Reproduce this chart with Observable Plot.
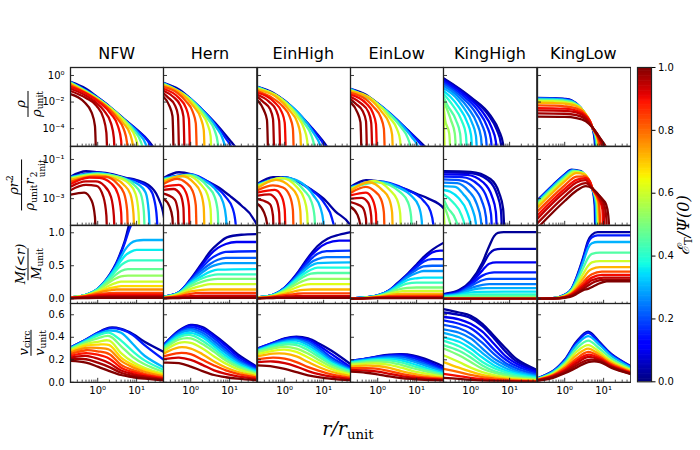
<!DOCTYPE html>
<html><head><meta charset="utf-8">
<script src="https://cdn.jsdelivr.net/npm/d3@7"></script>
<script src="https://cdn.jsdelivr.net/npm/@observablehq/plot@0.6"></script>
<style>
body{margin:0;background:#fff;}
#fig{position:relative;width:700px;height:450px;overflow:hidden;background:#fff;font-family:"DejaVu Sans",sans-serif;}
#fig svg{position:absolute;}
.title{position:absolute;font-family:"DejaVu Sans",sans-serif;font-size:16px;transform:translate(-50%,-50%);white-space:nowrap;color:#000;}
.yl{position:absolute;transform:translate(-50%,-50%) rotate(-90deg);white-space:nowrap;}
.frac{display:inline-flex;flex-direction:column;align-items:center;font-family:"DejaVu Serif",serif;font-style:italic;font-size:13px;line-height:1.0;color:#000;}
.frac .den{border-top:1px solid #000;padding-top:1px;margin-top:1px;}
.frac sub,.xl sub,.cbl sub{font-style:normal;font-size:70%;vertical-align:-0.3em;line-height:0;}
.frac sup{font-style:normal;font-size:70%;line-height:0;}
.ss{display:inline-flex;flex-direction:column;font-style:normal;font-size:68%;line-height:0.95;vertical-align:-0.35em;margin-left:1px;}
.xl{position:absolute;transform:translate(-50%,-50%);font-family:"DejaVu Serif",serif;font-style:italic;font-size:19px;white-space:nowrap;}
.cbl{position:absolute;transform:translate(-50%,-50%) rotate(-90deg);font-family:"DejaVu Serif",serif;font-style:italic;font-size:16px;white-space:nowrap;}
</style></head><body><div id="fig"></div>
<script>
// ---------------- data ----------------
const columnNames = ["NFW", "Hern", "EinHigh", "EinLow", "KingHigh", "KingLow"];
const colorbarTicks = [0, 0.2, 0.4, 0.6, 0.8, 1.0];
const rhoTicks = [1, 1e-2, 1e-4];
const rhoR2Ticks = [1e-1, 1e-3];
const massTicks = [0, 0.5, 1.0];
const vTicks = [0, 0.2, 0.4, 0.6];
const rMajor = [1, 10];
const rMinor = [0.3, 0.4, 0.5, 0.6, 0.7, 0.8, 0.9, 2, 3, 4, 5, 6, 7, 8, 9, 20, 30, 40];

// density: [E_T, [r, log10 rho, r, log10 rho, ...]]
const rhoNFW = [
 [0.03,[0.2,-0.48,0.5,-1.0,1,-1.65,2,-2.32,5,-3.32,10,-4.05,20,-4.9,35,-6.0,50,-7.3,62,-9]],
 [0.15,[0.2,-0.49,1,-1.67,5,-3.35,10,-4.1,22,-5.2,28,-5.9,33,-7.0,37,-9]],
 [0.3,[0.2,-0.51,1,-1.7,5,-3.4,11,-4.35,17,-5.15,20.5,-6.3,23,-9]],
 [0.45,[0.2,-0.54,1,-1.73,4,-3.12,8.5,-4.15,12.7,-4.95,15.3,-6.0,17,-9]],
 [0.6,[0.2,-0.58,1,-1.77,3,-2.85,6.2,-3.8,9.4,-4.7,11.2,-5.8,12.5,-9]],
 [0.72,[0.2,-0.64,1,-1.83,2.5,-2.75,4.6,-3.6,6.9,-4.45,8.3,-5.6,9.2,-9]],
 [0.83,[0.2,-0.74,0.8,-1.68,1.6,-2.3,3.2,-3.25,4.7,-4.05,5.7,-5.1,6.3,-9]],
 [0.9,[0.2,-0.86,0.6,-1.48,1.1,-2.02,2.2,-2.9,3.3,-3.8,4.0,-4.9,4.4,-9]],
 [0.94,[0.2,-1.0,0.5,-1.52,0.9,-2.03,1.45,-2.65,2.2,-3.6,2.6,-4.7,2.9,-9]],
 [0.97,[0.2,-1.17,0.5,-1.7,0.93,-2.28,1.4,-3.2,1.67,-4.3,1.85,-9]],
 [1.0,[0.2,-1.4,0.45,-2.0,0.7,-2.8,0.85,-3.8,0.95,-9]]
];
const rhoHern = [
 [0.03,[0.2,-0.55,0.5,-1.05,1,-1.75,2,-2.6,5,-3.8,10,-4.85,20,-5.95,40,-7.2,50,-7.8,56,-9]],
 [0.15,[0.2,-0.56,1,-1.76,3,-3.13,8,-4.73,12,-5.66,14.4,-6.66,16,-9]],
 [0.3,[0.2,-0.58,1,-1.78,2,-2.63,4.5,-3.88,6.75,-4.83,8.1,-5.78,9,-9]],
 [0.45,[0.2,-0.62,1,-1.82,2.75,-3.27,4.1,-4.12,4.95,-5.05,5.5,-9]],
 [0.6,[0.2,-0.68,0.8,-1.62,1.8,-2.78,2.7,-3.66,3.24,-4.55,3.6,-9]],
 [0.72,[0.2,-0.75,0.6,-1.4,1.2,-2.35,1.8,-3.2,2.16,-4.1,2.4,-9]],
 [0.83,[0.2,-0.86,0.45,-1.3,0.75,-1.93,1.12,-2.71,1.35,-3.59,1.5,-9]],
 [0.9,[0.2,-1.0,0.5,-1.7,0.75,-2.42,0.9,-3.27,1.0,-9]],
 [0.94,[0.2,-1.15,0.36,-1.62,0.54,-2.25,0.65,-3.08,0.72,-9]],
 [0.97,[0.2,-1.35,0.26,-1.65,0.39,-2.23,0.47,-3.0,0.52,-9]],
 [1.0,[0.2,-1.6,0.285,-2.3,0.34,-3.05,0.38,-9]]
];
const rhoEinHigh = [
 [0.03,[0.2,-0.85,0.5,-1.3,1,-1.9,2,-2.7,5,-3.95,10,-5.0,20,-6.25,50,-7.8,60,-9]],
 [0.15,[0.2,-0.86,1,-1.91,4,-3.66,11,-5.38,16.5,-6.46,19.8,-7.45,22,-9]],
 [0.3,[0.2,-0.88,1,-1.93,2.5,-2.95,5.5,-4.32,8.25,-5.29,9.9,-6.2,11,-9]],
 [0.45,[0.2,-0.92,1,-1.97,3.25,-3.63,4.9,-4.55,5.85,-5.46,6.5,-9]],
 [0.6,[0.2,-0.98,0.8,-1.75,2.1,-3.08,3.15,-4.0,3.78,-4.9,4.2,-9]],
 [0.72,[0.2,-1.06,0.6,-1.6,1.4,-2.7,2.1,-3.51,2.52,-4.42,2.8,-9]],
 [0.83,[0.2,-1.17,0.5,-1.72,0.9,-2.34,1.35,-3.12,1.62,-3.98,1.8,-9]],
 [0.9,[0.2,-1.3,0.56,-2.05,0.84,-2.75,1.0,-3.55,1.12,-9]],
 [0.94,[0.2,-1.45,0.4,-1.99,0.6,-2.61,0.72,-3.41,0.8,-9]],
 [0.97,[0.2,-1.62,0.28,-1.99,0.42,-2.53,0.5,-3.27,0.56,-9]],
 [1.0,[0.2,-1.87,0.29,-2.6,0.35,-3.34,0.39,-9]]
];
const rhoEinLow = [
 [0.03,[0.2,-1.0,0.5,-1.45,1,-2.1,2,-2.85,5,-3.9,10,-4.75,20,-5.6,50,-6.9,56,-7.6,60,-9]],
 [0.15,[0.2,-1.01,1,-2.11,5,-3.91,15,-5.46,22.5,-6.33,27,-7.23,30,-9]],
 [0.3,[0.2,-1.03,1,-2.13,3,-3.33,7.5,-4.63,11.25,-5.47,13.5,-6.35,15,-9]],
 [0.45,[0.2,-1.07,1,-2.17,4,-3.91,6,-4.74,7.2,-5.62,8,-9]],
 [0.6,[0.2,-1.13,0.8,-1.9,2.1,-3.23,3.15,-4.05,3.78,-4.91,4.2,-9]],
 [0.72,[0.2,-1.2,0.6,-1.72,1.3,-2.78,1.95,-3.58,2.34,-4.43,2.6,-9]],
 [0.83,[0.2,-1.31,0.5,-1.8,0.8,-2.4,1.2,-3.16,1.44,-4.0,1.6,-9]],
 [0.9,[0.2,-1.44,0.5,-2.09,0.75,-2.82,0.9,-3.64,1.0,-9]],
 [0.94,[0.2,-1.6,0.38,-2.12,0.57,-2.72,0.68,-3.54,0.76,-9]],
 [0.97,[0.2,-1.78,0.275,-2.14,0.41,-2.68,0.5,-3.43,0.55,-9]],
 [1.0,[0.2,-2.02,0.3,-2.77,0.36,-3.51,0.4,-9]]
];
const rhoKingHigh = [
 [0.02,[0.2,-0.2,1,-1.63,3.2,-3.01,5.36,-4.16,6.8,-5.17,8,-9]],
 [0.05,[0.2,-0.26,1,-1.7,2.8,-2.95,4.7,-4.1,5.95,-5.11,7,-9]],
 [0.1,[0.2,-0.36,0.8,-1.59,2.08,-2.8,3.48,-3.94,4.42,-4.95,5.2,-9]],
 [0.15,[0.2,-0.48,0.6,-1.46,1.56,-2.67,2.61,-3.81,3.32,-4.82,3.9,-9]],
 [0.2,[0.2,-0.62,0.5,-1.45,1.16,-2.55,1.94,-3.7,2.47,-4.71,2.9,-9]],
 [0.25,[0.2,-0.78,0.45,-1.51,0.86,-2.45,1.44,-3.6,1.83,-4.61,2.15,-9]],
 [0.3,[0.2,-0.96,0.4,-1.6,0.64,-2.37,1.07,-3.52,1.36,-4.53,1.6,-9]],
 [0.35,[0.2,-1.16,0.3,-1.6,0.48,-2.32,0.8,-3.47,1.02,-4.48,1.2,-9]],
 [0.4,[0.2,-1.38,0.35,-2.27,0.59,-3.42,0.75,-4.43,0.88,-9]],
 [0.45,[0.2,-1.62,0.25,-2.22,0.42,-3.37,0.535,-4.38,0.63,-9]],
 [0.5,[0.2,-1.88,0.31,-3.36,0.39,-4.36,0.46,-9]],
 [0.55,[0.2,-2.16,0.22,-3.35,0.28,-4.35,0.33,-9]],
 [0.6,[0.2,-2.46,0.23,-9]]
];
const rhoKingLow = [
 [0.03,[0.2,-1.68,0.5,-1.7,1,-1.76,1.5,-1.87,2.6,-2.43,4,-3.28,5.2,-3.98,5.9,-4.9,6.3,-9]],
 [0.15,[0.2,-1.7,0.5,-1.72,1,-1.78,1.5,-1.9,2.6,-2.46,4,-3.3,5.2,-3.96,6.1,-4.9,6.6,-9]],
 [0.3,[0.2,-1.75,0.5,-1.77,1,-1.83,1.6,-1.97,2.7,-2.5,4,-3.28,5.2,-3.95,6.3,-4.85,7.0,-9]],
 [0.45,[0.2,-1.82,0.5,-1.84,1,-1.9,1.7,-2.05,2.8,-2.57,4,-3.25,5.2,-3.94,6.6,-4.85,7.5,-9]],
 [0.6,[0.2,-1.92,0.5,-1.94,1,-2.0,1.8,-2.15,3,-2.65,4.2,-3.3,5.2,-3.93,6.9,-4.85,8.0,-9]],
 [0.72,[0.2,-2.05,0.5,-2.07,1,-2.12,2,-2.3,3.2,-2.78,4.3,-3.35,5.2,-3.93,7.2,-4.85,8.6,-9]],
 [0.83,[0.2,-2.25,0.5,-2.27,1,-2.32,2,-2.48,3.3,-2.9,4.4,-3.4,5.2,-3.92,7.5,-4.9,9.3,-9]],
 [0.9,[0.2,-2.45,1,-2.5,2,-2.64,3.4,-3.02,4.5,-3.45,5.2,-3.92,7.8,-4.85,9.3,-5.5,10.2,-9]],
 [0.94,[0.2,-2.62,1,-2.66,2,-2.78,3.4,-3.12,5.2,-3.92,8,-4.8,10,-5.6,11,-9]],
 [0.97,[0.2,-2.85,1,-2.88,2,-2.98,3.5,-3.3,5.2,-3.92,8,-4.7,10.5,-5.4,11.8,-6.2,12.3,-9]],
 [1.0,[0.2,-3.1,1,-3.12,2,-3.2,3.5,-3.45,5.2,-3.92,7,-4.45,9.5,-5.0,11.5,-5.4,13,-6.0,14,-7,14.5,-9]]
];

// enclosed mass: [E_T, [r, M, r, M, ...]]
const massNFW = [
 [0.03,[0.2,.02,0.5,.06,1,.15,2,.36,3,.54,4,.72,5,.88,6.3,1.11,8,1.35,15,1.7,50,1.9]],
 [0.15,[0.2,.02,0.5,.06,1,.15,2,.35,3,.53,4,.7,5,.85,6.5,1.05,8,1.18,12,1.28,50,1.3]],
 [0.3,[0.2,.02,0.5,.06,1,.15,2,.34,3,.5,4,.64,5,.74,7,.84,10,.88,15,.89,50,.89]],
 [0.36,[0.2,.02,0.5,.06,1,.14,2,.33,3,.47,4,.58,5,.65,7,.71,10,.74,50,.74]],
 [0.41,[0.2,.02,0.5,.055,1,.14,2,.31,3,.43,4,.51,5,.55,7,.58,50,.58]],
 [0.47,[0.2,.02,0.5,.055,1,.13,2,.28,3,.37,4,.42,6,.45,50,.45]],
 [0.53,[0.2,.02,0.5,.05,1,.12,2,.25,3,.31,4,.34,6,.35,50,.35]],
 [0.6,[0.2,.02,0.5,.05,1,.11,2,.2,3,.24,4,.26,50,.26]],
 [0.68,[0.2,.015,0.5,.045,1,.1,2,.16,3,.18,4,.19,50,.19]],
 [0.76,[0.2,.015,0.5,.04,1,.09,2,.125,3,.14,50,.14]],
 [0.84,[0.2,.015,0.5,.04,1,.07,2,.085,3,.09,50,.09]],
 [0.9,[0.2,.012,0.5,.03,1,.05,2,.06,50,.06]],
 [0.94,[0.2,.01,0.5,.025,1,.035,2,.04,50,.04]],
 [0.97,[0.2,.008,0.5,.018,1,.024,50,.025]],
 [1.0,[0.2,.005,0.5,.01,1,.012,50,.012]]
];
const massHern = [
 [0.03,[0.2,.03,0.5,.1,1,.3,2,.55,3.2,.72,5,.83,8.5,.93,20,.97,50,.98]],
 [0.1,[0.2,.03,0.5,.1,1,.29,2,.52,3.2,.67,5,.77,8,.83,15,.86,50,.86]],
 [0.16,[0.2,.03,0.5,.1,1,.28,2,.48,3.2,.6,5,.67,8,.71,50,.72]],
 [0.22,[0.2,.03,0.5,.095,1,.27,2,.44,3.2,.53,5,.59,8,.62,50,.62]],
 [0.28,[0.2,.03,0.5,.09,1,.26,2,.4,3.2,.48,5,.52,8,.54,50,.54]],
 [0.35,[0.2,.025,0.5,.09,1,.24,2,.35,3.2,.41,5,.44,50,.45]],
 [0.42,[0.2,.025,0.5,.085,1,.22,2,.31,3.2,.35,5,.37,50,.37]],
 [0.5,[0.2,.02,0.5,.08,1,.19,2,.26,3.2,.29,5,.3,50,.3]],
 [0.6,[0.2,.02,0.5,.07,1,.15,2,.2,3.2,.22,50,.22]],
 [0.72,[0.2,.015,0.5,.055,1,.11,2,.135,3.2,.14,50,.14]],
 [0.85,[0.2,.012,0.5,.04,1,.075,2,.088,3,.09,50,.09]],
 [0.93,[0.2,.008,0.5,.025,1,.04,2,.045,50,.045]],
 [1.0,[0.2,.004,0.5,.01,1,.014,50,.015]]
];
const massEinHigh = [
 [0.03,[0.2,.02,0.5,.06,1,.17,2,.37,3,.52,4.7,.68,7,.8,12.6,.91,25,.97,50,1.01]],
 [0.1,[0.2,.02,0.5,.06,1,.17,2,.36,3,.5,4.7,.65,7,.75,12,.84,25,.88,50,.88]],
 [0.17,[0.2,.02,0.5,.06,1,.16,2,.34,3,.47,4.7,.6,7,.68,12,.72,50,.73]],
 [0.24,[0.2,.02,0.5,.06,1,.16,2,.33,3,.44,4.7,.55,7,.6,12,.63,50,.63]],
 [0.31,[0.2,.02,0.5,.055,1,.15,2,.31,3,.41,4.7,.5,7,.54,50,.55]],
 [0.38,[0.2,.02,0.5,.055,1,.14,2,.29,3,.37,4.7,.44,7,.47,50,.47]],
 [0.45,[0.2,.02,0.5,.05,1,.13,2,.26,3,.33,4.7,.38,7,.39,50,.39]],
 [0.53,[0.2,.015,0.5,.045,1,.12,2,.22,3,.27,4.7,.3,50,.3]],
 [0.62,[0.2,.015,0.5,.04,1,.1,2,.17,3,.205,4.7,.22,50,.22]],
 [0.72,[0.2,.012,0.5,.035,1,.075,2,.12,3,.135,5,.14,50,.14]],
 [0.84,[0.2,.01,0.5,.03,1,.055,2,.075,3,.08,50,.08]],
 [0.93,[0.2,.007,0.5,.02,1,.033,2,.04,50,.04]],
 [1.0,[0.2,.004,0.5,.01,1,.014,50,.015]]
];
const massEinLow = [
 [0.03,[0.2,.005,0.5,.02,1,.05,2,.13,3,.22,5.7,.37,10,.52,15,.63,25,.74,50,.85]],
 [0.1,[0.2,.005,0.5,.02,1,.05,2,.13,3,.21,5.7,.36,10,.5,15,.6,25,.7,40,.73,50,.73]],
 [0.16,[0.2,.005,0.5,.02,1,.05,2,.125,3,.205,5.7,.35,10,.48,15,.56,25,.6,50,.6]],
 [0.22,[0.2,.005,0.5,.02,1,.05,2,.12,3,.2,5.7,.34,10,.44,15,.49,25,.5,50,.5]],
 [0.28,[0.2,.005,0.5,.02,1,.05,2,.12,3,.19,5.7,.32,10,.39,15,.42,50,.42]],
 [0.35,[0.2,.005,0.5,.02,1,.045,2,.11,3,.18,5.7,.28,10,.31,15,.32,50,.32]],
 [0.42,[0.2,.005,0.5,.018,1,.043,2,.1,3,.16,5.7,.23,10,.245,50,.245]],
 [0.5,[0.2,.004,0.5,.016,1,.04,2,.09,3,.13,5.7,.165,10,.17,50,.17]],
 [0.6,[0.2,.004,0.5,.014,1,.035,2,.075,3,.1,5.7,.12,50,.12]],
 [0.72,[0.2,.003,0.5,.012,1,.03,2,.055,3,.07,5,.075,50,.075]],
 [0.84,[0.2,.003,0.5,.01,1,.023,2,.038,3,.044,50,.045]],
 [0.93,[0.2,.002,0.5,.007,1,.016,2,.023,50,.025]],
 [1.0,[0.2,.001,0.5,.004,1,.008,2,.01,50,.01]]
];
const massKingHigh = [
 [0.02,[0.2,.07,0.5,.13,1,.27,2,.55,3,.8,4,.95,5,1.0,7,1.01,50,1.01]],
 [0.05,[0.2,.065,0.5,.12,1,.25,2,.5,3,.68,4,.74,6,.755,50,.755]],
 [0.1,[0.2,.06,0.5,.11,1,.23,2,.43,3,.53,4.5,.55,50,.55]],
 [0.15,[0.2,.055,0.5,.1,1,.21,2,.35,3,.39,4,.4,50,.4]],
 [0.2,[0.2,.05,0.5,.09,1,.19,2,.28,3,.3,50,.3]],
 [0.25,[0.2,.045,0.5,.08,1,.16,2,.21,3,.22,50,.22]],
 [0.3,[0.2,.04,0.5,.07,1,.13,1.6,.155,2.5,.16,50,.16]],
 [0.35,[0.2,.033,0.5,.06,1,.095,1.5,.105,50,.107]],
 [0.4,[0.2,.026,0.5,.046,0.8,.062,1.2,.067,50,.067]],
 [0.45,[0.2,.019,0.5,.035,0.8,.04,50,.04]],
 [0.5,[0.2,.013,0.4,.021,50,.022]],
 [0.6,[0.2,.008,0.3,.01,50,.01]],
 [0.75,[0.2,.004,50,.004]],
 [0.9,[0.2,.001,50,.001]],
 [1.0,[0.2,0,50,0]]
];
const massKingLow = [
 [0.03,[0.2,.001,0.5,.01,1,.06,1.5,.15,2,.32,3,.63,4,.88,5,.97,7,1.01,50,1.01]],
 [0.15,[0.2,.001,0.5,.01,1,.06,1.5,.15,2,.31,3,.61,4,.85,5,.93,7,.96,50,.96]],
 [0.3,[0.2,.001,0.5,.009,1,.055,1.5,.14,2,.29,3,.56,4,.77,5,.84,7,.86,50,.86]],
 [0.45,[0.2,.001,0.5,.008,1,.05,1.5,.13,2,.25,3,.47,4,.62,5,.68,8,.7,50,.7]],
 [0.6,[0.2,.001,0.5,.007,1,.045,1.5,.11,2,.21,3,.38,4,.5,5,.55,8,.57,50,.57]],
 [0.72,[0.2,.001,0.5,.006,1,.038,1.5,.09,2,.17,3,.31,4,.41,5,.45,8,.48,50,.48]],
 [0.83,[0.2,.001,0.5,.005,1,.03,1.5,.075,2,.14,3,.25,4,.33,5,.37,9,.41,50,.41]],
 [0.9,[0.2,.001,0.5,.004,1,.026,1.5,.065,2,.12,3,.21,4,.28,5,.32,9,.36,50,.36]],
 [0.94,[0.2,0,0.5,.004,1,.022,1.5,.055,2,.1,3,.18,4,.24,5,.28,10,.32,50,.32]],
 [0.97,[0.2,0,0.5,.003,1,.018,1.5,.045,2,.085,3,.15,4,.2,6,.26,11,.29,50,.29]],
 [1.0,[0.2,0,0.5,.002,1,.014,1.5,.035,2,.07,3,.13,4,.15,6,.2,8,.235,12,.265,50,.265]]
];

// circular velocity at the radii of vGrid: [E_T, [v, v, ...]]
const vGrid = [0.2, 0.5, 1, 2, 4, 8, 16, 50];
const vcNFW = [
 [0.03,[.31,.38,.44,.485,.475,.43,.36,.27]],
 [0.15,[.31,.38,.44,.48,.47,.42,.33,.2]],
 [0.3,[.305,.375,.43,.46,.44,.34,.236,.133]],
 [0.4,[.30,.365,.415,.44,.37,.275,.195,.11]],
 [0.5,[.295,.355,.39,.41,.32,.225,.16,.09]],
 [0.6,[.285,.34,.36,.37,.26,.18,.128,.072]],
 [0.68,[.275,.325,.335,.33,.22,.155,.11,.062]],
 [0.76,[.265,.305,.305,.29,.19,.133,.094,.053]],
 [0.83,[.25,.285,.275,.25,.155,.108,.076,.042]],
 [0.89,[.235,.26,.245,.21,.13,.09,.064,.036]],
 [0.94,[.22,.235,.21,.17,.105,.073,.052,.028]],
 [0.97,[.205,.205,.175,.135,.085,.058,.042,.022]],
 [1.0,[.19,.175,.14,.1,.065,.045,.032,.016]]
];
const vcHern = [
 [0.03,[.33,.46,.51,.49,.42,.34,.25,.14]],
 [0.1,[.33,.455,.505,.48,.41,.325,.232,.131]],
 [0.16,[.325,.45,.49,.46,.39,.3,.212,.12]],
 [0.22,[.32,.44,.475,.44,.365,.28,.197,.111]],
 [0.28,[.315,.43,.46,.42,.34,.26,.183,.104]],
 [0.35,[.31,.415,.44,.4,.32,.236,.168,.095]],
 [0.42,[.30,.4,.42,.37,.295,.215,.152,.086]],
 [0.5,[.29,.38,.39,.34,.27,.194,.137,.077]],
 [0.6,[.275,.35,.35,.3,.23,.166,.117,.066]],
 [0.72,[.255,.31,.3,.25,.185,.132,.094,.053]],
 [0.85,[.23,.26,.25,.2,.15,.106,.075,.042]],
 [0.93,[.205,.22,.2,.155,.106,.075,.053,.03]],
 [1.0,[.175,.17,.14,.1,.065,.045,.032,.018]]
];
const vcEinHigh = [
 [0.03,[.3,.35,.39,.405,.39,.34,.28,.16]],
 [0.1,[.3,.35,.385,.4,.38,.32,.25,.133]],
 [0.17,[.295,.345,.38,.39,.365,.3,.22,.121]],
 [0.24,[.29,.34,.37,.38,.35,.28,.2,.112]],
 [0.31,[.285,.335,.36,.37,.33,.26,.185,.105]],
 [0.38,[.28,.325,.35,.35,.31,.24,.17,.097]],
 [0.45,[.275,.315,.335,.33,.285,.22,.156,.088]],
 [0.53,[.265,.3,.315,.3,.255,.194,.137,.077]],
 [0.62,[.25,.28,.29,.27,.22,.166,.117,.066]],
 [0.72,[.23,.255,.255,.23,.18,.132,.094,.053]],
 [0.84,[.205,.22,.21,.18,.135,.1,.071,.04]],
 [0.93,[.18,.185,.17,.14,.1,.071,.05,.028]],
 [1.0,[.15,.14,.12,.09,.062,.043,.031,.017]]
];
const vcEinLow = [
 [0.03,[.19,.21,.23,.245,.25,.24,.21,.14]],
 [0.1,[.19,.21,.228,.24,.245,.23,.195,.12]],
 [0.16,[.188,.208,.225,.235,.235,.215,.18,.11]],
 [0.22,[.185,.205,.22,.228,.225,.2,.165,.1]],
 [0.28,[.182,.2,.213,.22,.21,.185,.15,.092]],
 [0.35,[.178,.195,.205,.208,.195,.165,.13,.08]],
 [0.42,[.172,.188,.196,.195,.176,.145,.115,.07]],
 [0.5,[.165,.178,.183,.178,.155,.125,.1,.058]],
 [0.6,[.155,.165,.167,.155,.13,.1,.08,.049]],
 [0.72,[.14,.148,.145,.128,.1,.078,.06,.039]],
 [0.84,[.125,.126,.12,.1,.076,.058,.044,.03]],
 [0.93,[.11,.105,.095,.076,.056,.042,.032,.022]],
 [1.0,[.095,.085,.07,.052,.038,.029,.022,.015]]
];
const vcKingHigh = [
 [0.02,[.65,.62,.59,.52,.41,.3,.2,.11]],
 [0.05,[.62,.6,.57,.5,.39,.27,.18,.105]],
 [0.1,[.58,.56,.52,.45,.34,.23,.16,.09]],
 [0.15,[.55,.52,.48,.4,.29,.2,.14,.08]],
 [0.2,[.51,.48,.43,.35,.25,.17,.12,.068]],
 [0.25,[.47,.44,.39,.3,.21,.15,.1,.058]],
 [0.3,[.44,.4,.34,.26,.18,.125,.088,.05]],
 [0.35,[.4,.36,.3,.22,.15,.105,.074,.042]],
 [0.4,[.37,.32,.26,.18,.125,.088,.062,.036]],
 [0.45,[.33,.28,.22,.15,.1,.072,.05,.03]],
 [0.5,[.3,.24,.18,.12,.085,.06,.042,.025]],
 [0.6,[.24,.18,.13,.09,.063,.045,.032,.019]],
 [0.7,[.18,.13,.095,.066,.047,.033,.024,.014]],
 [0.8,[.12,.09,.066,.046,.033,.023,.016,.01]],
 [0.9,[.075,.055,.04,.028,.02,.014,.01,.006]],
 [1.0,[.04,.03,.022,.015,.011,.008,.006,.004]]
];
const vcKingLow = [
 [0.03,[.035,.1,.2,.36,.45,.355,.25,.142]],
 [0.15,[.035,.098,.195,.35,.44,.346,.245,.139]],
 [0.3,[.033,.094,.185,.33,.41,.33,.232,.131]],
 [0.45,[.03,.085,.17,.3,.37,.296,.21,.118]],
 [0.6,[.028,.077,.155,.27,.33,.267,.189,.107]],
 [0.72,[.025,.07,.14,.24,.3,.245,.173,.098]],
 [0.83,[.022,.063,.125,.21,.27,.226,.16,.09]],
 [0.9,[.02,.057,.11,.19,.245,.212,.15,.085]],
 [0.94,[.018,.052,.1,.17,.225,.2,.141,.08]],
 [0.97,[.016,.046,.09,.15,.2,.19,.135,.076]],
 [1.0,[.014,.04,.08,.13,.18,.18,.128,.073]]
];

// ---------------- styling / layout ----------------
const JET_STOPS = [0,0.11,0.125,0.34,0.35,0.375,0.64,0.65,0.66,0.89,0.91,1];
const JET_COLORS = ["rgb(0,0,128)","rgb(0,0,255)","rgb(0,0,255)","rgb(0,219,255)","rgb(0,229,247)","rgb(21,255,226)","rgb(238,255,8)","rgb(247,246,0)","rgb(255,236,0)","rgb(255,19,0)","rgb(232,0,0)","rgb(128,0,0)"];
const jet = {type: "linear", domain: JET_STOPS, range: JET_COLORS, interpolate: "rgb"};

const FX = 70, CW = 93.33, FY = 67, RH = 78.83;
const fig = document.getElementById("fig");

const SUP = {"-":"\u207B","0":"\u2070","1":"\u00B9","2":"\u00B2","3":"\u00B3","4":"\u2074","5":"\u2075","6":"\u2076","7":"\u2077","8":"\u2078","9":"\u2079"};
const logFmt = d => "10" + String(Math.round(Math.log10(d))).split("").map(ch => SUP[ch]).join("");
const f1 = d3.format(".1f");

const columns = [
 {rho: rhoNFW, m: massNFW, v: vcNFW},
 {rho: rhoHern, m: massHern, v: vcHern},
 {rho: rhoEinHigh, m: massEinHigh, v: vcEinHigh},
 {rho: rhoEinLow, m: massEinLow, v: vcEinLow},
 {rho: rhoKingHigh, m: massKingHigh, v: vcKingHigh},
 {rho: rhoKingLow, m: massKingLow, v: vcKingLow}
];
const rowsCfg = [
 {y: {type: "log", domain: [10 ** -5.33, 10 ** 0.6]}, ticks: rhoTicks, fmt: logFmt, curve: "monotone-x"},
 {y: {type: "log", domain: [10 ** -4.36, 10 ** -0.34]}, ticks: rhoR2Ticks, fmt: logFmt, curve: "monotone-x"},
 {y: {type: "linear", domain: [-0.085, 1.11]}, ticks: massTicks, fmt: f1, curve: "monotone-x"},
 {y: {type: "linear", domain: [0, 0.70]}, ticks: vTicks, fmt: f1, curve: "catmull-rom"}
];

function pairs(a) { const o = []; for (let i = 0; i < a.length; i += 2) o.push([a[i], a[i + 1]]); return o; }

function rowsFor(col, row) {
 const out = [];
 if (row <= 1) {
  col.rho.forEach(([E, pts], id) => pairs(pts).forEach(([r, lr]) =>
   out.push({id, E, r, y: row === 0 ? 10 ** lr : 10 ** lr * r * r})));
 } else if (row === 2) {
  col.m.forEach(([E, pts], id) => pairs(pts).forEach(([r, m]) => out.push({id, E, r, y: m})));
 } else {
  col.v.forEach(([E, vals], id) => vals.forEach((v, j) => out.push({id, E, r: vGrid[j], y: v})));
 }
 return out;
}

for (let c = 0; c < 6; c++) {
 for (let row = 0; row < 4; row++) {
  const cfg = rowsCfg[row];
  const ml = c === 0 ? 42 : 1, mr = 1, mt = 1, mb = row === 3 ? 24 : 1;
  const marks = [
   Plot.line(rowsFor(columns[c], row), {x: "r", y: "y", z: "id", stroke: "E", strokeWidth: 2.3, curve: cfg.curve, clip: true, strokeLinejoin: "round"}),
   Plot.tickX(rMinor, {x: d => d, insetTop: RH - 2.2, stroke: "#222", strokeWidth: 0.8}),
   Plot.tickX(rMajor, {x: d => d, insetTop: RH - 4, stroke: "#222", strokeWidth: 0.9}),
   Plot.tickY(cfg.ticks, {y: d => d, insetRight: CW - 4, stroke: "#222", strokeWidth: 0.9}),
   Plot.frame({stroke: "#222", strokeWidth: 1.3})
  ];
  if (c === 0) marks.push(Plot.axisY({ticks: cfg.ticks, tickFormat: cfg.fmt, tickSize: 0, tickPadding: 6, label: null, fontSize: 10}));
  if (row === 3) marks.push(Plot.axisX({ticks: rMajor, tickFormat: logFmt, tickSize: 0, tickPadding: 5, label: null, fontSize: 10}));
  const svg = Plot.plot({
   width: CW + ml + mr, height: RH + mt + mb,
   marginLeft: ml, marginRight: mr, marginTop: mt, marginBottom: mb,
   x: {type: "log", domain: [0.2, 50], axis: null},
   y: {...cfg.y, axis: null},
   color: jet,
   style: {background: "none", overflow: "hidden", fontFamily: "DejaVu Sans, sans-serif", fontSize: "10px", color: "#000"},
   marks
  });
  svg.style.left = (FX + c * CW - ml) + "px";
  svg.style.top = (FY + row * RH - mt) + "px";
  svg.style.maxWidth = "none";
  fig.appendChild(svg);
 }
}

// colorbar
const rampStep = 0.004;
const ramp = d3.range(0, 1, rampStep);
const cbPad = 8;
const cb = Plot.plot({
 width: 14 + 1 + 40, height: 314.3 + 2 * cbPad,
 marginLeft: 1, marginRight: 40, marginTop: cbPad, marginBottom: cbPad,
 x: {domain: [0, 1], axis: null},
 y: {domain: [0, 1], axis: null},
 color: jet,
 style: {background: "none", fontFamily: "DejaVu Sans, sans-serif", fontSize: "10px", color: "#000"},
 marks: [
  Plot.rect(ramp, {x1: () => 0, x2: () => 1, y1: d => d, y2: d => Math.min(1, d + rampStep * 1.5), fill: d => d + rampStep / 2}),
  Plot.frame({stroke: "#222", strokeWidth: 1.2}),
  Plot.axisY({anchor: "right", ticks: colorbarTicks, tickFormat: f1, tickSize: 3.5, tickPadding: 3, label: null, fontSize: 10})
 ]
});
cb.style.left = (637 - 1) + "px";
cb.style.top = (FY - cbPad) + "px";
cb.style.maxWidth = "none";
fig.appendChild(cb);

// titles and labels (HTML text)
function addHTML(cls, x, y, html) {
 const d = document.createElement("div");
 d.className = cls; d.style.left = x + "px"; d.style.top = y + "px"; d.innerHTML = html;
 fig.appendChild(d);
}
columnNames.forEach((n, c) => addHTML("title", FX + c * CW + CW / 2, 53, n));
addHTML("yl", 26, FY + 0.5 * RH - 2, '<div class="frac"><span>ρ</span><span class="den">ρ<sub>unit</sub></span></div>');
addHTML("yl", 25, FY + 1.5 * RH, '<div class="frac"><span>ρr<sup>2</sup></span><span class="den">ρ<sub>unit</sub>r<span class="ss"><span>2</span><span>unit</span></span></span></div>');
addHTML("yl", 26, FY + 2.5 * RH, '<div class="frac"><span>M(&lt;r)</span><span class="den">M<sub>unit</sub></span></div>');
addHTML("yl", 29, FY + 3.5 * RH, '<div class="frac"><span>v<sub>circ</sub></span><span class="den">v<sub>unit</sub></span></div>');
addHTML("xl", 348, 428, 'r/r<sub>unit</sub>');
addHTML("cbl", 683, 225, 'ℰ<sub>T</sub>/Ψ(0)');
</script></body></html>
